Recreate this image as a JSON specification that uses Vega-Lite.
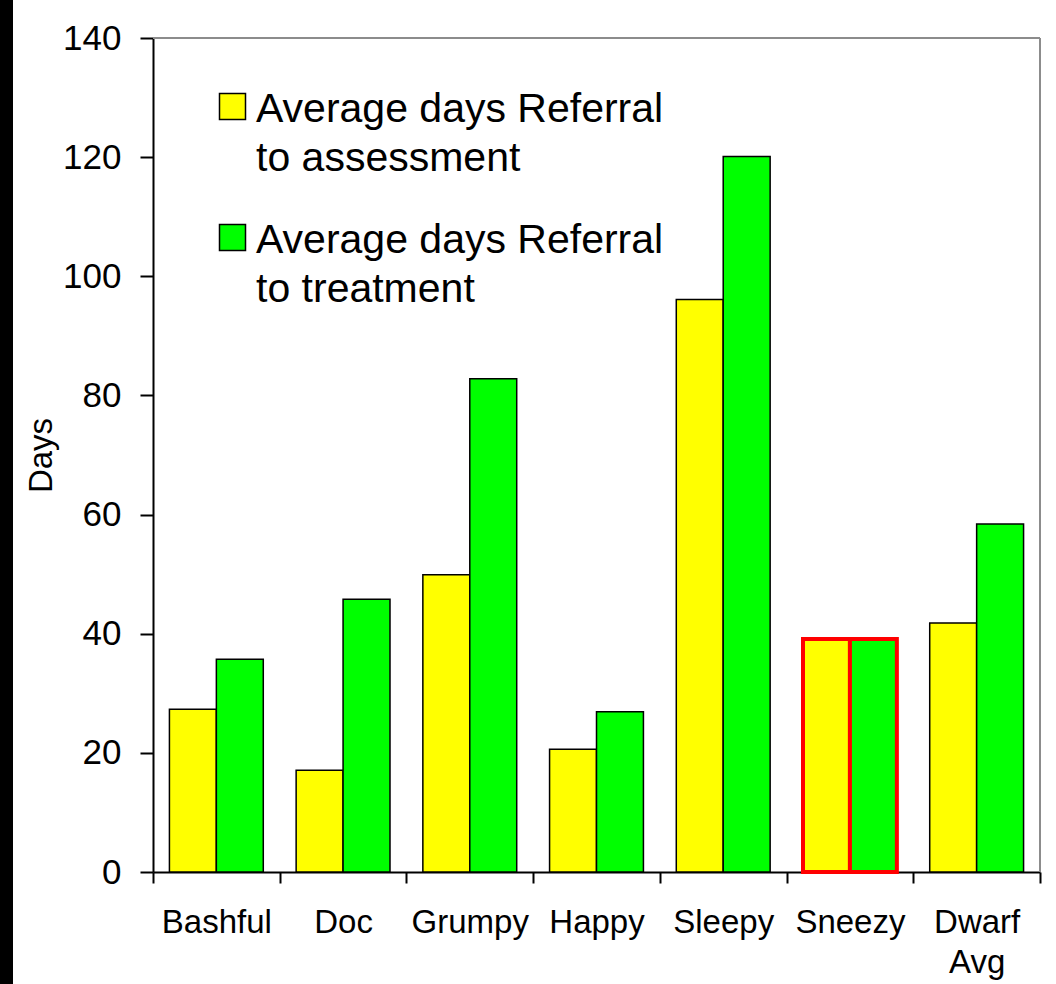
{
  "$schema": "https://vega.github.io/schema/vega-lite/v6.json",
  "width": 887,
  "height": 834,
  "autosize": {"type": "none"},
  "padding": {"left": 153, "top": 38, "right": 16, "bottom": 112},
  "background": "black",
  "config": {
    "font": "Liberation Sans",
    "view": {"fill": "white", "stroke": "white", "strokeWidth": 280}
  },
  "data": {
    "values": [
      {"dwarf": "Bashful", "measure": "Average days Referral to assessment", "days": 27.3},
      {"dwarf": "Bashful", "measure": "Average days Referral to treatment", "days": 35.7},
      {"dwarf": "Doc", "measure": "Average days Referral to assessment", "days": 17.1},
      {"dwarf": "Doc", "measure": "Average days Referral to treatment", "days": 45.8},
      {"dwarf": "Grumpy", "measure": "Average days Referral to assessment", "days": 49.9},
      {"dwarf": "Grumpy", "measure": "Average days Referral to treatment", "days": 82.8},
      {"dwarf": "Happy", "measure": "Average days Referral to assessment", "days": 20.6},
      {"dwarf": "Happy", "measure": "Average days Referral to treatment", "days": 26.9},
      {"dwarf": "Sleepy", "measure": "Average days Referral to assessment", "days": 96.1},
      {"dwarf": "Sleepy", "measure": "Average days Referral to treatment", "days": 120.1},
      {"dwarf": "Sneezy", "measure": "Average days Referral to assessment", "days": 39.1},
      {"dwarf": "Sneezy", "measure": "Average days Referral to treatment", "days": 39.1},
      {"dwarf": "Dwarf Avg", "measure": "Average days Referral to assessment", "days": 41.8},
      {"dwarf": "Dwarf Avg", "measure": "Average days Referral to treatment", "days": 58.4}
    ]
  },
  "layer": [
    {
      "mark": {"type": "bar"},
      "encoding": {
        "x": {
          "field": "dwarf",
          "type": "nominal",
          "sort": ["Bashful", "Doc", "Grumpy", "Happy", "Sleepy", "Sneezy", "Dwarf Avg"],
          "scale": {"paddingInner": 0, "paddingOuter": 0},
          "axis": {
            "title": null,
            "labelAngle": 0,
            "tickBand": "extent",
            "tickSize": 11,
            "tickWidth": 2,
            "tickColor": "black",
            "domainColor": "black",
            "domainWidth": 2,
            "labelPadding": 23,
            "labelFontSize": 33,
            "labelColor": "black",
            "labelOverlap": false,
            "labelLineHeight": 40,
            "labelExpr": "datum.label == 'Dwarf Avg' ? ['Dwarf', 'Avg'] : datum.label"
          }
        },
        "xOffset": {
          "field": "measure",
          "type": "nominal",
          "sort": ["Average days Referral to assessment", "Average days Referral to treatment"],
          "scale": {"paddingInner": 0, "paddingOuter": 0.35}
        },
        "y": {
          "field": "days",
          "type": "quantitative",
          "scale": {"domain": [0, 140], "nice": false},
          "axis": {
            "values": [0, 20, 40, 60, 80, 100, 120, 140],
            "grid": false,
            "tickSize": 13,
            "tickWidth": 2,
            "tickColor": "black",
            "domainColor": "black",
            "domainWidth": 2,
            "labelFontSize": 35,
            "labelPadding": 19,
            "labelColor": "black",
            "title": "Days",
            "titleFontSize": 33,
            "titleFontWeight": "normal",
            "titleColor": "black",
            "titlePadding": 4
          }
        },
        "color": {
          "field": "measure",
          "type": "nominal",
          "scale": {
            "domain": ["Average days Referral to assessment", "Average days Referral to treatment"],
            "range": ["#ffff00", "#00ff00"]
          },
          "legend": {
            "orient": "none",
            "legendX": 59,
            "legendY": 31,
            "title": null,
            "padding": 0,
            "labelFontSize": 41,
            "labelColor": "black",
            "labelLimit": 700,
            "labelOffset": 3,
            "labelBaseline": "top",
            "labelExpr": "datum.label == 'Average days Referral to assessment' ? ['Average days Referral', 'to assessment'] : ['Average days Referral', 'to treatment']",
            "symbolType": "M-1,0.31L1,0.31L1,2.31L-1,2.31Z",
            "symbolSize": 676,
            "symbolStrokeColor": "black",
            "symbolStrokeWidth": 1.5,
            "symbolOpacity": 1,
            "rowPadding": 21,
            "encode": {
              "labels": {"update": {"lineHeight": {"value": 49}}}
            }
          }
        },
        "stroke": {
          "condition": {"test": "datum.dwarf === 'Sneezy'", "value": "#ff0000"},
          "value": "#000000"
        },
        "strokeWidth": {
          "condition": {"test": "datum.dwarf === 'Sneezy'", "value": 4},
          "value": 1.5
        },
        "opacity": {"value": 1}
      }
    },
    {
      "mark": {"type": "rule", "color": "#8c8c8c", "strokeWidth": 2},
      "encoding": {
        "y": {"datum": 140, "type": "quantitative"}
      }
    },
    {
      "mark": {"type": "rule", "color": "#8c8c8c", "strokeWidth": 2},
      "encoding": {
        "x": {"value": "width"}
      }
    }
  ]
}
